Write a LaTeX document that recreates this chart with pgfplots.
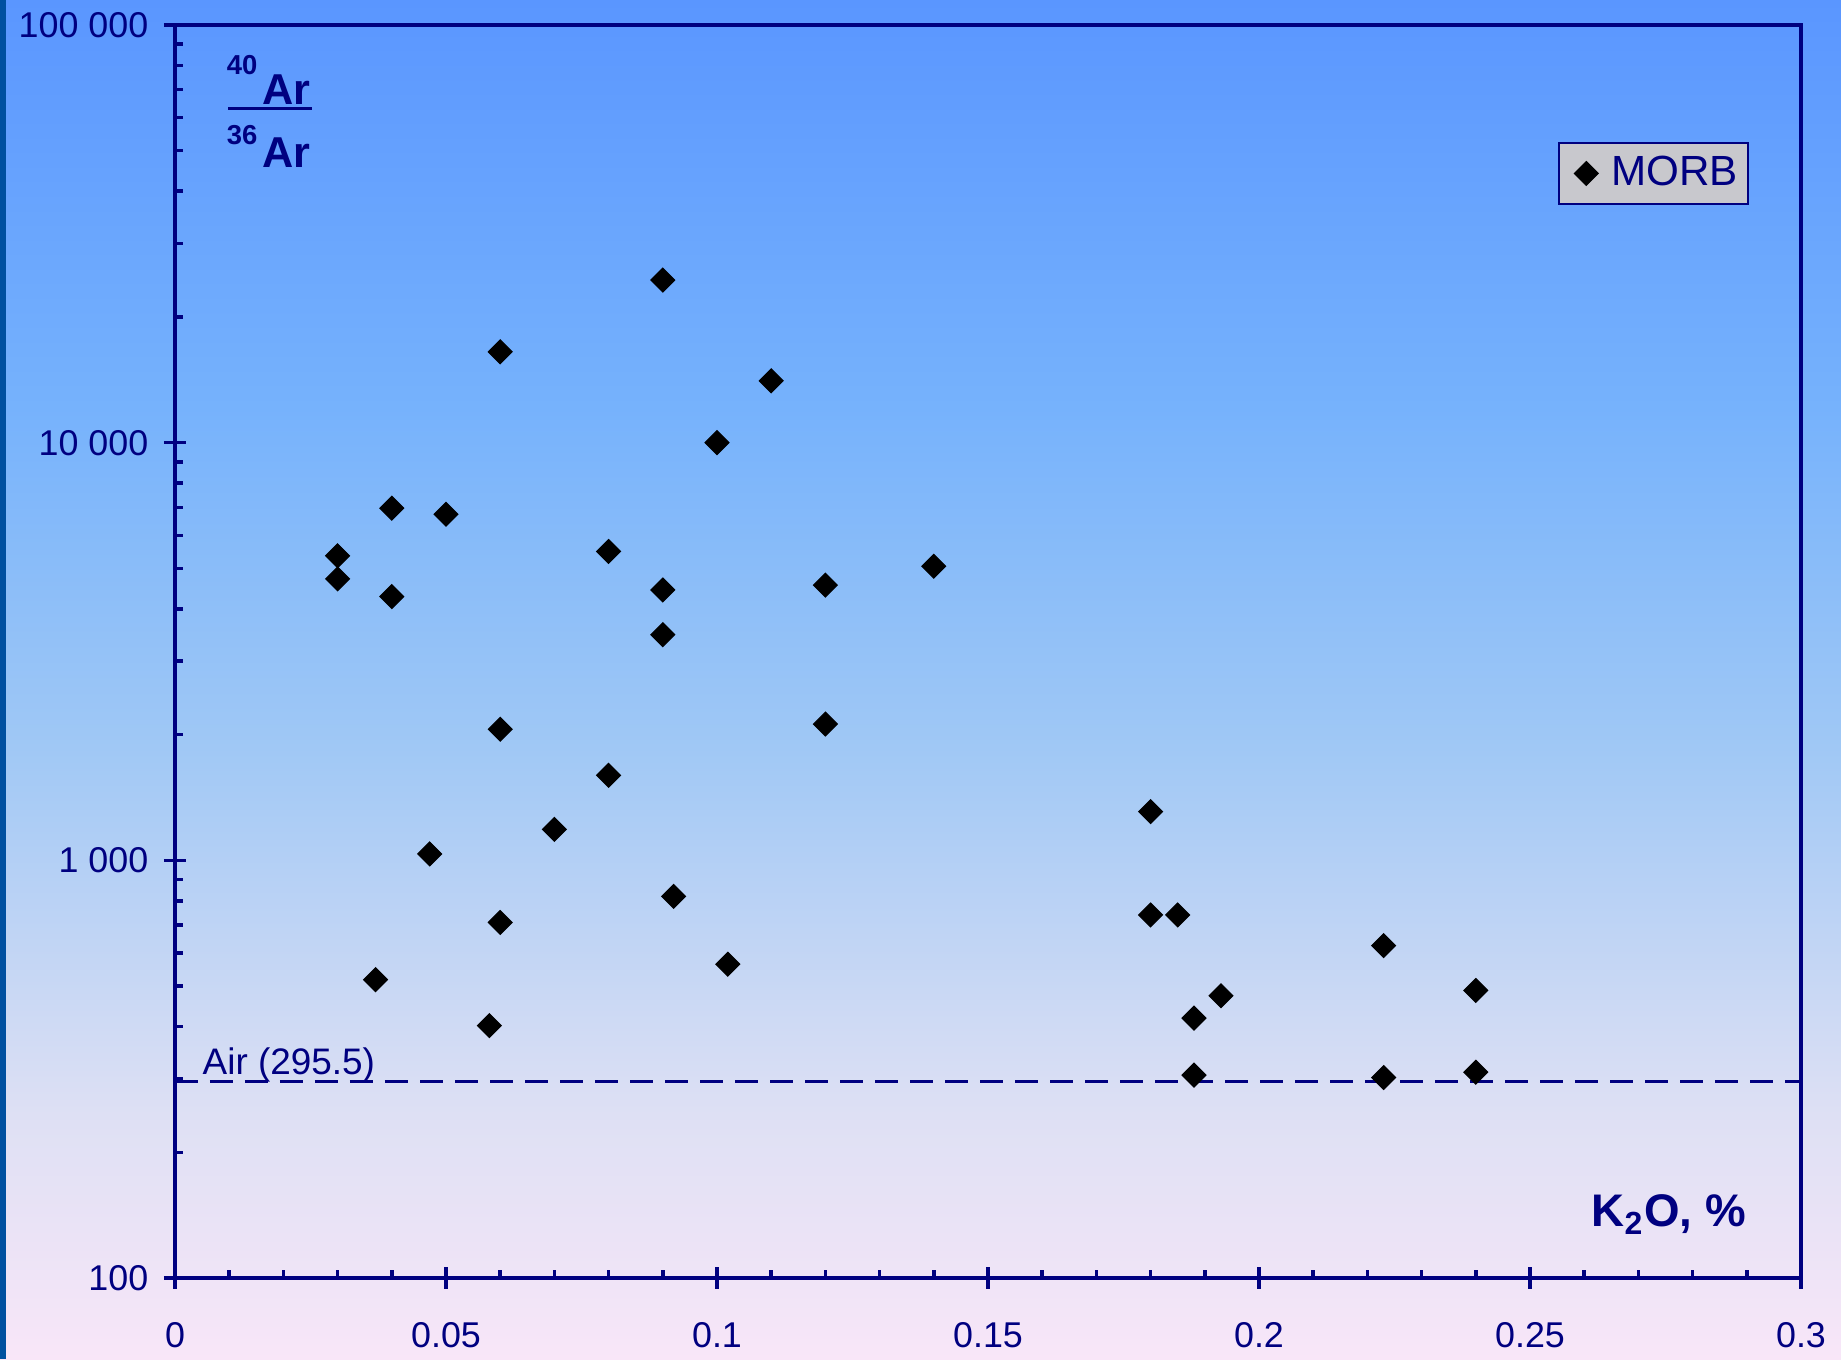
\documentclass[border=0pt]{standalone}
\usepackage{pgfplots}
\pgfplotsset{compat=1.18}
\usepackage{fontspec}
\setmainfont{Liberation Sans}

\definecolor{navy}{RGB}{0,0,128}
\definecolor{bgA}{RGB}{248,230,248}
\definecolor{bgB}{RGB}{222,224,244}
\definecolor{bgC}{RGB}{160,200,245}
\definecolor{bgD}{RGB}{118,178,252}
\definecolor{bgE}{RGB}{90,150,255}
\definecolor{edge}{RGB}{0,80,160}
\definecolor{legfill}{RGB}{200,200,205}

% slide background: pale pink at the bottom up to blue at the top
\pgfdeclareverticalshading{slidebg}{100bp}{%
  color(0bp)=(bgA); color(25bp)=(bgA); color(34bp)=(bgB);
  color(47.5bp)=(bgC); color(60bp)=(bgD); color(75bp)=(bgE); color(100bp)=(bgE)}

\pgfplotstableread{
x      y
0.030  5360
0.030  4720
0.040  6970
0.040  4280
0.050  6740
0.060  16500
0.060  2060
0.060  710
0.058  402
0.037  518
0.047  1036
0.070  1186
0.080  5490
0.080  1598
0.090  24500
0.090  4440
0.090  3470
0.092  820
0.100  10000
0.102  564
0.110  14060
0.120  4560
0.120  2120
0.140  5060
0.180  1308
0.180  740
0.185  740
0.193  474
0.188  419
0.188  306
0.223  625
0.223  302
0.240  488
0.240  311
}\morb

\begin{document}
\begin{tikzpicture}
\shade[shading=slidebg] (0,0) rectangle (18.41,13.59);
\fill[edge] (0,0) rectangle (0.06,13.59);
\useasboundingbox (0,0) rectangle (18.41,13.59);

\begin{axis}[
  at={(1.75cm,0.81cm)}, anchor=south west,
  scale only axis, width=16.26cm, height=12.53cm,
  xmin=0, xmax=0.3,
  ymode=log, ymin=100, ymax=100000,
  xtick={0,0.05,0.1,0.15,0.2,0.25,0.3},
  xticklabels={0,0.05,0.1,0.15,0.2,0.25,0.3},
  minor x tick num=4,
  ytick={100,1000,10000,100000},
  yticklabels={100,1 000,10 000,100 000},
  tick pos=left,
  tick align=inside,
  major tick length=1.1mm, minor tick length=0.8mm,
  extra x ticks={0,0.05,0.1,0.15,0.2,0.25,0.3},
  extra x tick labels={},
  extra y ticks={100,1000,10000,100000},
  extra y tick labels={},
  extra tick style={tick align=outside, major tick length=1.1mm},
  axis line style={navy, line width=1.2pt},
  tick style={navy, line width=1pt},
  ticklabel style={font=\fontsize{10.2}{12}\selectfont, text=navy},
  yticklabel style={inner sep=0pt, anchor=east, xshift=-2.6mm},
  xticklabel style={inner sep=0pt, anchor=north, yshift=-4.4mm},
  legend style={at={(axis description cs:0.968,0.9066)}, anchor=north east,
    fill=legfill, draw=navy, line width=0.6pt,
    font=\fontsize{12}{13}\selectfont, text=navy,
    inner xsep=0.3mm, inner ysep=0.6mm},
  legend image code/.code={%
    \path[draw=none, fill=none] (0cm,0cm) -- (0.42cm,0cm);
    \draw[#1] plot coordinates {(0.24cm,0cm)};},
]
% atmospheric ratio
\addplot[navy, line width=1pt, dash pattern=on 2.3mm off 1.2mm, forget plot]
  coordinates {(0,295.5) (0.3,295.5)};
\addplot[only marks, mark=square*, mark size=2.4pt,
  mark options={rotate=45, fill=black, draw=black, line width=0.3pt}]
  table[x=x, y=y] {\morb};
\addlegendentry{MORB}
\end{axis}

% ratio label in the upper left corner
\node[anchor=base east, inner sep=0, text=navy, font=\fontsize{7.8}{8}\selectfont\bfseries]
  at (2.58,12.84) {40};
\node[anchor=base west, inner sep=0, text=navy, font=\fontsize{12.3}{14}\selectfont\bfseries]
  at (2.62,12.54) {Ar};
\draw[navy, line width=1.1pt] (2.28,12.505) -- (3.12,12.505);
\node[anchor=base east, inner sep=0, text=navy, font=\fontsize{7.8}{8}\selectfont\bfseries]
  at (2.58,12.14) {36};
\node[anchor=base west, inner sep=0, text=navy, font=\fontsize{12.3}{14}\selectfont\bfseries]
  at (2.62,11.91) {Ar};

% x-axis title
\node[anchor=base west, inner sep=0, text=navy, font=\fontsize{13}{15}\selectfont\bfseries]
  at (15.91,1.32) {K\textsubscript{2}O, \%};

% air reference label
\node[anchor=base west, inner sep=0, text=navy, font=\fontsize{10.5}{12}\selectfont]
  at (2.02,2.84) {Air (295.5)};
\end{tikzpicture}
\end{document}
